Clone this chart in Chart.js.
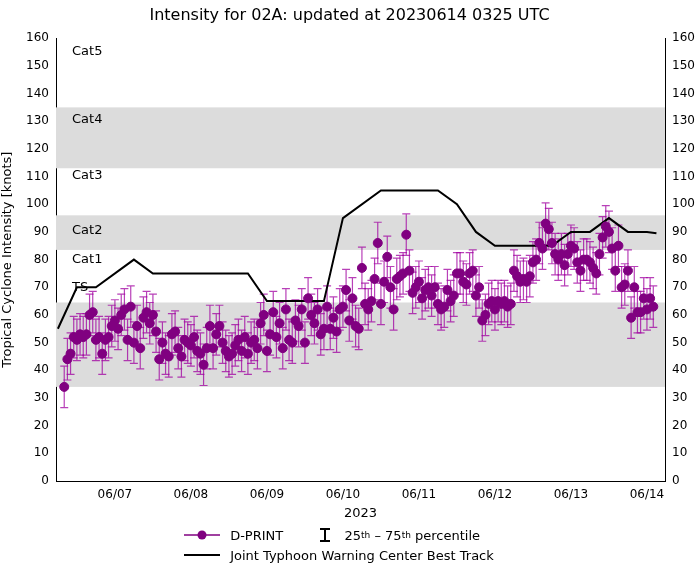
<!DOCTYPE html>
<html><head><meta charset="utf-8">
<script src="https://cdn.jsdelivr.net/npm/chart.js@4"></script>
<style>
body{margin:0;background:#fff;font-family:"DejaVu Sans",sans-serif}
#wrap{position:relative;width:699px;height:571px}
#leg{position:absolute;left:180px;top:525px;font-size:13px;color:#000}
#leg div{height:20px;display:flex;align-items:center}
sup{font-size:9px}
</style></head><body>
<div id="wrap"><canvas id="c" width="699" height="571"></canvas>
<div id="leg">
<div><svg width="46" height="14"><line x1="4" y1="7" x2="40" y2="7" stroke="#800080" stroke-width="1.5"/><circle cx="22" cy="7" r="4.5" fill="#800080"/></svg>&nbsp;D-PRINT&nbsp;&nbsp;&nbsp;&nbsp;&nbsp;&nbsp;&nbsp;&nbsp;<svg width="20" height="16"><path d="M4 2H14M9 2V14M4 14H14" stroke="#000" stroke-width="2"/></svg>&nbsp;&nbsp;25<sup>th</sup>&nbsp;–&nbsp;75<sup>th</sup>&nbsp;percentile</div>
<div><svg width="46" height="14"><line x1="4" y1="7" x2="40" y2="7" stroke="#000" stroke-width="2"/></svg>&nbsp;Joint Typhoon Warning Center Best Track</div>
</div></div>
<script>
// hours since 06/06 00 UTC
const dprintStart = 8;
const dprint = [
  34, 44, 46, 52, 51, 53, 52, 53, 60, 61, 51, 52, 46, 51, 52, 56,
  58, 55, 60, 62, 51, 63, 50, 56, 48, 59, 61, 57, 60, 54, 44, 50, 46, 45, 53, 54, 48, 45, 51, 50,
  49, 52, 47, 46, 42, 48, 56, 48, 53, 56, 50, 47, 45, 46, 49, 51, 47, 52, 46, 50, 51, 48, 57, 60,
  47, 53, 61, 52, 57, 48, 62, 51, 50, 58, 56, 62, 50, 66, 60, 57, 62, 53, 55, 63, 55, 59, 54, 62,
  63, 69, 58, 66, 56, 55, 77, 64, 62, 65, 73, 86, 64, 72, 81, 70, 62, 73, 74, 75, 89, 76, 68, 70,
  72, 66, 69, 70, 67, 70, 64, 62, 63, 69, 65, 67, 75, 75, 72, 71, 75, 76, 67, 70, 58, 60, 64, 65,
  62, 65, 64, 65, 63, 64, 76, 74, 72, 73, 72, 74, 79, 80, 86, 84, 93, 91, 86, 82, 80, 82, 78, 82,
  85, 84, 79, 76, 80, 80, 79, 77, 75,
  82, 88, 92, 90, 84, 76, 85, 70, 71, 76, 59, 70, 61, 61, 66, 62, 66, 63
];
const spreadLow = 7.5, spreadHigh = 7.5;
const btHours = [6, 12, 18, 30, 36, 66, 72, 90, 96, 108, 126, 132, 138, 144, 162, 168, 174, 180, 186, 192, 195];
const btKnots = [55, 70, 70, 80, 75, 75, 65, 65, 95, 105, 105, 100, 90, 85, 85, 90, 90, 95, 90, 90, 89.5];
const dayTicks = [24, 48, 72, 96, 120, 144, 168, 192];
const dayLabels = ["06/07", "06/08", "06/09", "06/10", "06/11", "06/12", "06/13", "06/14"];
const bands = [[34, 64.5], [83.5, 96], [113, 135]];
const catNames = [["TS", 70], ["Cat1", 80], ["Cat2", 90.5], ["Cat3", 110.5], ["Cat4", 130.5], ["Cat5", 155]];

const purple = "#800080";
const pts = dprint.map((v, i) => ({ x: dprintStart + i, y: v }));
const bt = btHours.map((h, i) => ({ x: h, y: btKnots[i] }));

const extras = {
  id: "extras",
  beforeDatasetsDraw(chart) {
    const { ctx, chartArea: a, scales: { x, y } } = chart;
    ctx.save();
    ctx.fillStyle = "#dcdcdc";
    bands.forEach(([lo, hi]) => {
      ctx.fillRect(a.left, y.getPixelForValue(hi), a.right - a.left, y.getPixelForValue(lo) - y.getPixelForValue(hi));
    });
    ctx.fillStyle = "#000";
    ctx.font = "13px 'DejaVu Sans'";
    ctx.textBaseline = "middle";
    catNames.forEach(([n, v]) => ctx.fillText(n, a.left + 16, y.getPixelForValue(v)));
    // error bars
    ctx.strokeStyle = "rgba(160,0,160,0.75)";
    ctx.lineWidth = 1.2;
    pts.forEach(p => {
      const px = x.getPixelForValue(p.x);
      const t = y.getPixelForValue(p.y + spreadHigh), b = y.getPixelForValue(p.y - spreadLow);
      ctx.beginPath();
      ctx.moveTo(px, t); ctx.lineTo(px, b);
      ctx.moveTo(px - 4, t); ctx.lineTo(px + 4, t);
      ctx.moveTo(px - 4, b); ctx.lineTo(px + 4, b);
      ctx.stroke();
    });
    ctx.restore();
  }
};

new Chart(document.getElementById("c"), {
  type: "scatter",
  data: {
    datasets: [
      { data: bt, showLine: true, borderColor: "#000", borderWidth: 2, pointRadius: 0, order: 2 },
      { data: pts, backgroundColor: purple, borderColor: purple, pointRadius: 4.5, order: 1 }
    ]
  },
  plugins: [extras],
  options: {
    responsive: false, animation: false,
    layout: { padding: { top: 0, right: 0, left: 0, bottom: 50 } },
    plugins: {
      legend: { display: false }, tooltip: { enabled: false },
      title: { display: true, text: "Intensity for 02A: updated at 20230614 0325 UTC", color: "#000",
        font: { family: "DejaVu Sans", size: 16, weight: "normal" }, padding: { top: 6, bottom: 13 } }
    },
    scales: {
      x: {
        type: "linear", min: 5.4, max: 197.7,
        afterBuildTicks: s => { s.ticks = dayTicks.map(v => ({ value: v })); },
        ticks: { callback: v => dayLabels[dayTicks.indexOf(v)], color: "#000", font: { family: "DejaVu Sans", size: 12 }, maxRotation: 0 },
        grid: { display: false, drawTicks: true, tickLength: 4, tickColor: "#000" },
        border: { color: "#000" },
        title: { display: true, text: "2023", color: "#000", font: { family: "DejaVu Sans", size: 13 }, padding: 0 }
      },
      y: {
        min: 0, max: 160,
        afterFit: s => { s.width = 56; },
        ticks: { stepSize: 10, color: "#000", font: { family: "DejaVu Sans", size: 12 } },
        grid: { display: false, tickLength: 4, tickColor: "#000" },
        border: { color: "#000" },
        title: { display: true, text: "Tropical Cyclone Intensity [knots]", color: "#000", font: { family: "DejaVu Sans", size: 13 }, padding: 0 }
      },
      y2: {
        position: "right", min: 0, max: 160,
        afterFit: s => { s.width = 34; },
        ticks: { stepSize: 10, color: "#000", font: { family: "DejaVu Sans", size: 12 } },
        grid: { display: false, tickLength: 4, tickColor: "#000" },
        border: { color: "#000" }
      }
    }
  }
});
</script></body></html>
